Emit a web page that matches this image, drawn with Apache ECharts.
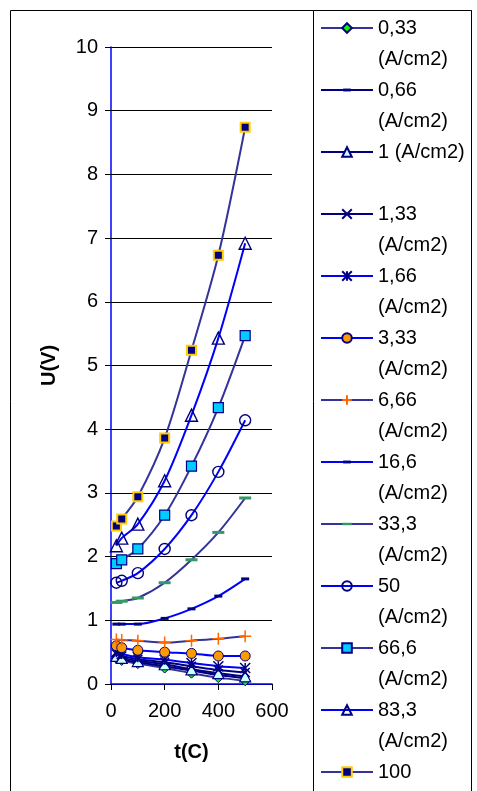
<!DOCTYPE html>
<html lang="en">
<head>
    <meta charset="UTF-8">
    <title>U(V) - t(C)</title>
    <style>
        html, body {margin: 0; padding: 0; background: #fff;}
    </style>
</head>
<body>
<div class="main" style="width: 477px;height: 791px;"></div>
</body>
<script src="https://cdn.jsdelivr.net/npm/echarts@6/dist/echarts.min.js"></script>
<script>
    // t(C) values, same for every curve
    var tempC = [20, 40, 100, 200, 300, 400, 500];

    // current density labels (A/cm2)
    var densities = ['0,33', '0,66', '1', '1,33', '1,66', '3,33', '6,66', '16,6', '33,3', '50', '66,6', '83,3', '100'];

    // U(V), one array per density
    var u_033 = [0.40, 0.37, 0.32, 0.25, 0.17, 0.10, 0.05];
    var u_066 = [0.42, 0.39, 0.34, 0.28, 0.21, 0.14, 0.09];
    var u_1 = [0.44, 0.41, 0.36, 0.31, 0.23, 0.17, 0.12];
    var u_133 = [0.47, 0.44, 0.39, 0.34, 0.28, 0.22, 0.18];
    var u_166 = [0.50, 0.47, 0.42, 0.38, 0.33, 0.28, 0.25];
    var u_333 = [0.60, 0.57, 0.53, 0.50, 0.48, 0.44, 0.44];
    var u_666 = [0.70, 0.69, 0.68, 0.65, 0.68, 0.71, 0.75];
    var u_16_6 = [0.94, 0.94, 0.94, 1.03, 1.18, 1.38, 1.65];
    var u_33_3 = [1.28, 1.30, 1.35, 1.59, 1.95, 2.38, 2.92];
    var u_50 = [1.59, 1.62, 1.74, 2.12, 2.65, 3.33, 4.14];
    var u_66_6 = [1.89, 1.95, 2.12, 2.65, 3.42, 4.34, 5.47];
    var u_83_3 = [2.17, 2.29, 2.51, 3.19, 4.22, 5.43, 6.92];
    var u_100 = [2.48, 2.59, 2.94, 3.86, 5.24, 6.73, 8.74];

    var yTicks = [0, 10, 1];
    var xTicks = [0, 600, 200];

    var values = [u_033, u_066, u_1, u_133, u_166, u_333, u_666, u_16_6, u_33_3, u_50, u_66_6, u_83_3, u_100];

    // marker shapes
    var dashSmall = 'path://M0,0M10,10M1,3.5h8v3h-8z';
    var dashWide = 'path://M0,0M12,12M0,4.5h12v3h-12z';
    var cross = 'path://M0,0L10,10M10,0L0,10';
    var star = 'path://M0,0L10,10M10,0L0,10M5,0L5,10';
    var plus = 'path://M5,0L5,10M0,5L10,5';

    var looks = [
        {line: '#333399', symbol: 'diamond', size: 10, fill: '#00FF00', border: '#000080', bw: 1},
        {line: '#000080', symbol: dashSmall, size: 10, fill: '#000080', border: '#000080', bw: 0},
        {line: '#000080', symbol: 'triangle', size: 11, fill: '#CCFFFF', border: '#000080', bw: 1.2},
        {line: '#000080', symbol: cross, size: 9, fill: '#000080', border: '#000080', bw: 1.5},
        {line: '#0000FF', symbol: star, size: 10, fill: '#000080', border: '#000080', bw: 1.5},
        {line: '#0000FF', symbol: 'circle', size: 10, fill: '#FF9900', border: '#000080', bw: 1},
        {line: '#333399', symbol: plus, size: 12, fill: '#FF6600', border: '#FF6600', bw: 1.5},
        {line: '#0000FF', symbol: dashSmall, size: 10, fill: '#000080', border: '#000080', bw: 0},
        {line: '#333399', symbol: dashWide, size: 12, fill: '#339966', border: '#339966', bw: 0},
        {line: '#0000FF', symbol: 'circle', size: 11, fill: 'rgba(0,0,0,0)', border: '#000080', bw: 1.4},
        {line: '#333399', symbol: 'rect', size: 10, fill: '#00CCFF', border: '#000080', bw: 1.2},
        {line: '#0000FF', symbol: 'triangle', size: 12, fill: 'rgba(0,0,0,0)', border: '#000080', bw: 1.4},
        {line: '#333399', symbol: 'rect', size: 9, fill: '#000080', border: '#FFCC00', bw: 2}
    ];

    var main = document.querySelector(".main");
    var mainEcharts = echarts.init(main);

    var series = densities.map(function (d, i) {
        var lk = looks[i];
        return {
            name: d,
            type: 'line',
            smooth: 0.3,
            symbol: lk.symbol,
            symbolSize: lk.size,
            showAllSymbol: true,
            lineStyle: {color: lk.line, width: 2},
            itemStyle: {color: lk.fill, borderColor: lk.border, borderWidth: lk.bw},
            emphasis: {disabled: true},
            data: tempC.map(function (t, j) {
                return [t, values[i][j]];
            })
        };
    });

    var option = {
        animation: false,
        backgroundColor: '#fff',
        textStyle: {fontFamily: 'Liberation Sans, Arial, sans-serif'},
        graphic: [
            {type: 'rect', z: 0, shape: {x: 10.5, y: 10.5, width: 461, height: 800}, style: {fill: '#fff', stroke: '#000', lineWidth: 1}},
            {type: 'rect', z: 1, shape: {x: 313.5, y: 10.5, width: 158, height: 800}, style: {fill: '#fff', stroke: '#000', lineWidth: 1}}
        ],
        grid: {
            left: 111, top: 47, right: 205, bottom: 107,
            show: true, backgroundColor: '#FFFFCC', borderColor: '#0000FF', borderWidth: 1.5
        },
        legend: {
            orient: 'vertical',
            left: 320,
            top: -18.5,
            height: 1000,
            padding: 0,
            itemWidth: 52,
            itemHeight: 12,
            itemGap: -31,
            selectedMode: false,
            textStyle: {fontSize: 20, lineHeight: 31, color: '#000'},
            // blank first line so the icon sits level with the number
            formatter: function (name) {
                if (name === '1') return ' \n1 (A/cm2)\n ';
                return ' \n' + name + '\n(A/cm2)';
            },
            data: densities
        },
        xAxis: {
            type: 'value',
            min: xTicks[0], max: xTicks[1], interval: xTicks[2],
            name: 't(C)',
            nameLocation: 'middle',
            nameGap: 58,
            nameTextStyle: {fontSize: 20, fontWeight: 'bold', color: '#000'},
            axisLine: {show: true, lineStyle: {color: '#0000FF', width: 1.5}},
            axisTick: {show: true, length: 6, lineStyle: {color: '#000'}},
            axisLabel: {fontSize: 20, color: '#000', margin: 17},
            splitLine: {show: false}
        },
        yAxis: {
            type: 'value',
            min: yTicks[0], max: yTicks[1], interval: yTicks[2],
            name: 'U(V)',
            nameLocation: 'middle',
            nameGap: 52,
            nameTextStyle: {fontSize: 20, fontWeight: 'bold', color: '#000'},
            axisLine: {show: true, lineStyle: {color: '#0000FF', width: 1.5}},
            axisTick: {show: true, length: 6, lineStyle: {color: '#000'}},
            axisLabel: {fontSize: 20, color: '#000', margin: 13},
            splitLine: {show: true, lineStyle: {color: '#000', width: 1}}
        },
        series: series
    };

    mainEcharts.setOption(option);
</script>
</html>
